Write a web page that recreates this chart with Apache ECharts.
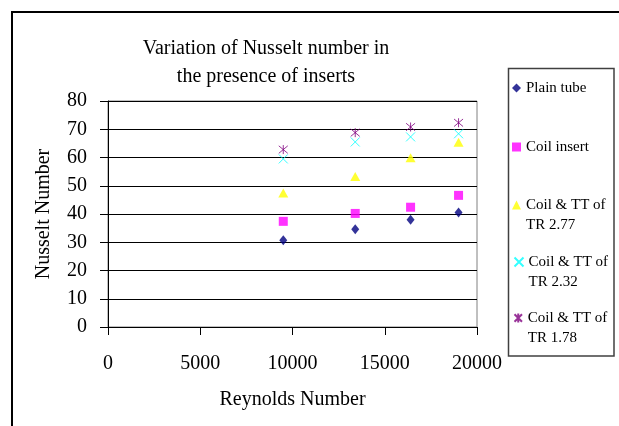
<!DOCTYPE html>
<html>
<head>
<meta charset="utf-8">
<script src="https://cdn.jsdelivr.net/npm/echarts@6/dist/echarts.min.js"></script>
<style>
  html, body { margin: 0; padding: 0; background: #fff; }
  #chart { width: 619px; height: 426px; }
</style>
</head>
<body>
<div id="chart"></div>
<script>
const reynolds = [9500, 13400, 16400, 19000]
const plainTube = [30.7, 34.6, 38.0, 40.5]
const coilInsert = [37.4, 40.2, 42.4, 46.6]
const coilTR277 = [47.4, 53.3, 59.9, 65.4]
const coilTR232 = [59.5, 65.5, 67.3, 68.4]
const coilTR178 = [62.8, 68.8, 70.8, 72.3]
const seriesNames = ['Plain tube', 'Coil insert', 'Coil & TT of\nTR 2.77', 'Coil & TT of\nTR 2.32', 'Coil & TT of\nTR 1.78']

const font = 'Liberation Serif'
const pairs = (ys) => reynolds.map((x, i) => [x, ys[i]])

const series = [
  { name: seriesNames[0], type: 'scatter', data: pairs(plainTube), symbol: 'diamond', symbolSize: [8, 10], itemStyle: { color: '#000080' } },
  { name: seriesNames[1], type: 'scatter', data: pairs(coilInsert), symbol: 'rect', symbolSize: 9, itemStyle: { color: '#ff00ff' } },
  { name: seriesNames[2], type: 'scatter', data: pairs(coilTR277), symbol: 'triangle', symbolSize: [10, 9], itemStyle: { color: '#ffff00' } },
  { name: seriesNames[3], type: 'scatter', data: pairs(coilTR232), symbol: 'path://M0,0L10,10M10,0L0,10', symbolSize: 9,
    itemStyle: { color: 'none', borderColor: '#00ffff', borderWidth: 1 } },
  { name: seriesNames[4], type: 'scatter', data: pairs(coilTR178), symbol: 'path://M0,0L10,10M10,0L0,10M5,-1L5,11', symbolSize: 9,
    itemStyle: { color: 'none', borderColor: '#800080', borderWidth: 1 } },
]

// one legend per entry so each can sit at its own height
const legendTops = [78, 137, 175, 232, 288]
const legend = seriesNames.map((name, i) => ({
  data: [name],
  orient: 'vertical',
  left: 512,
  top: legendTops[i],
  padding: 0,
  itemWidth: 9,
  itemHeight: 9,
  selectedMode: false,
  // a blank first line keeps the icon level with the first text line
  formatter: (n) => n.indexOf('\n') >= 0 ? '\n' + n : n,
  textStyle: {
    fontFamily: font,
    fontSize: 15,
    color: '#000',
    lineHeight: 20,
  },
}))

const chart = echarts.init(document.getElementById('chart'))
chart.setOption({
  animation: false,
  title: {
    text: 'Variation of Nusselt number in\nthe presence of inserts',
    left: 261,
    textAlign: 'center',
    top: 30,
    textStyle: { fontFamily: font, fontSize: 20, fontWeight: 'normal', color: '#000', lineHeight: 28 },
  },
  legend: legend,
  grid: {
    left: 108,
    right: 142,
    top: 101,
    bottom: 99,
    show: true,
    borderColor: '#808080',
    borderWidth: 1,
  },
  xAxis: {
    type: 'value',
    min: 0,
    max: 20000,
    interval: 5000,
    name: 'Reynolds Number',
    nameLocation: 'middle',
    nameGap: 63,
    nameTextStyle: { fontFamily: font, fontSize: 20, color: '#000' },
    axisLine: { show: true, lineStyle: { color: '#000', width: 1 } },
    axisTick: { show: true, inside: false, length: 8, lineStyle: { color: '#000' } },
    axisLabel: { fontFamily: font, fontSize: 20, color: '#000', margin: 27, formatter: (v) => String(v) },
    splitLine: { show: false },
  },
  yAxis: {
    type: 'value',
    min: 0,
    max: 80,
    interval: 10,
    name: 'Nusselt Number',
    nameLocation: 'middle',
    nameGap: 54,
    nameTextStyle: { fontFamily: font, fontSize: 20, color: '#000' },
    axisLine: { show: true, lineStyle: { color: '#000', width: 1 } },
    axisTick: { show: true, inside: false, length: 8, lineStyle: { color: '#000' } },
    axisLabel: { fontFamily: font, fontSize: 20, color: '#000', margin: 21 },
    splitLine: { show: true, lineStyle: { color: '#000', width: 1 } },
  },
  graphic: [
    {
      type: 'rect',
      shape: { x: 12, y: 12, width: 700, height: 500 },
      style: { fill: 'none', stroke: '#000', lineWidth: 2 },
      silent: true,
    },
    {
      type: 'rect',
      shape: { x: 508.5, y: 68.5, width: 105.5, height: 287.5 },
      style: { fill: 'none', stroke: '#404040', lineWidth: 1.5 },
      silent: true,
    },
  ],
  series: series,
})
</script>
</body>
</html>
